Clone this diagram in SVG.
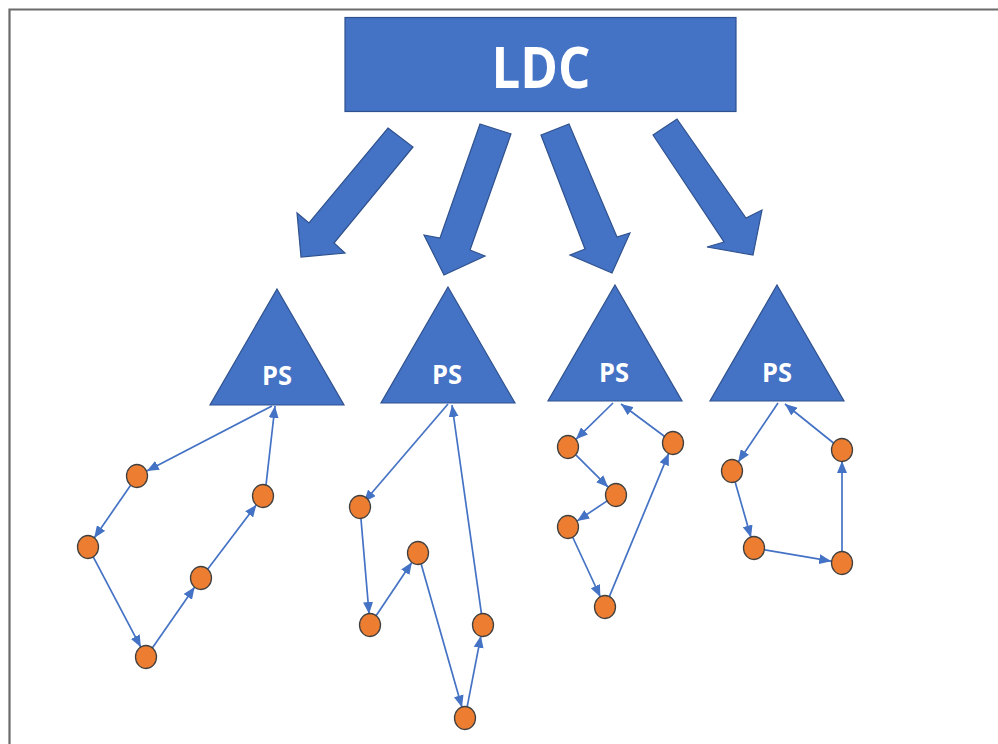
<svg xmlns="http://www.w3.org/2000/svg" width="998" height="744" viewBox="0 0 998 744">
<defs>
<style>
.blk{fill:#4472C4;stroke:#2F528F;stroke-width:1.2}
.lbl{fill:#FFFFFF;font-family:"Open Sans","Liberation Sans",sans-serif;font-weight:700;text-anchor:middle}
.node{fill:#ED7D31;stroke:#404040;stroke-width:1.3}
.edge{fill:none;stroke:#4472C4;stroke-width:1.7;marker-end:url(#ah)}
</style>
<marker id="ah" markerUnits="userSpaceOnUse" markerWidth="12" markerHeight="10" refX="12" refY="5" orient="auto">
<path d="M0,0 L12,5 L0,10 z" fill="#4472C4"/>
</marker>
</defs>
<rect width="998" height="744" fill="#FFFFFF"/>
<path d="M9.5,760 V9.5 H1010" fill="none" stroke="#6b6b6b" stroke-width="2.2"/>

<g id="ldc">
<rect class="blk" x="345" y="17.5" width="391" height="94"/>
<text class="lbl" x="541" y="88" font-size="58" textLength="99" lengthAdjust="spacingAndGlyphs">LDC</text>
</g>

<g id="big-arrows">
<polygon class="blk" points="388,128 413,147 334,243 345,253 301,257 297,213 309,223"/>
<polygon class="blk" points="480,124 511,134 470,250 485,256 444,275 424,235 440,238"/>
<polygon class="blk" points="541,135 569,124 617,237 630,233 612,273 570,255 585,249"/>
<polygon class="blk" points="653,135 677,119 746,218 762,210 753,255 707,247 724,242"/>
</g>

<g id="ps1">
<polygon class="blk" points="277,289 344,405 210,405"/>
<text class="lbl" x="277" y="385" font-size="26" textLength="30" lengthAdjust="spacingAndGlyphs">PS</text>
</g>
<g id="ps2">
<polygon class="blk" points="448,287 515,403 381,403"/>
<text class="lbl" x="447" y="383.5" font-size="26" textLength="30" lengthAdjust="spacingAndGlyphs">PS</text>
</g>
<g id="ps3">
<polygon class="blk" points="615,285 682,401 548,401"/>
<text class="lbl" x="614" y="382" font-size="26" textLength="30" lengthAdjust="spacingAndGlyphs">PS</text>
</g>
<g id="ps4">
<polygon class="blk" points="777,285 844,401 710,401"/>
<text class="lbl" x="777" y="382" font-size="26" textLength="30" lengthAdjust="spacingAndGlyphs">PS</text>
</g>

<g id="connectors">
<line class="edge" x1="272" y1="406" x2="146.8" y2="470.9"/>
<line class="edge" x1="130.8" y1="485.1" x2="94.2" y2="537.9"/>
<line class="edge" x1="93.1" y1="556.7" x2="140.9" y2="647.3"/>
<line class="edge" x1="152.3" y1="648" x2="194.7" y2="587"/>
<line class="edge" x1="207.6" y1="569.2" x2="256.4" y2="504.8"/>
<line class="edge" x1="266" y1="485" x2="275" y2="406"/>

<line class="edge" x1="448" y1="404" x2="364" y2="502"/>
<line class="edge" x1="360.9" y1="518" x2="369.1" y2="614"/>
<line class="edge" x1="376.1" y1="615.8" x2="411.9" y2="562.2"/>
<line class="edge" x1="421" y1="563.6" x2="462" y2="707.4"/>
<line class="edge" x1="467.1" y1="707.2" x2="480.9" y2="635.8"/>
<line class="edge" x1="481.5" y1="614.1" x2="452" y2="405"/>

<line class="edge" x1="613" y1="403" x2="575.9" y2="439.3"/>
<line class="edge" x1="575.8" y1="454.8" x2="608.2" y2="487.2"/>
<line class="edge" x1="606.8" y1="501.1" x2="577.2" y2="520.9"/>
<line class="edge" x1="572.6" y1="537" x2="600.4" y2="597"/>
<line class="edge" x1="609.2" y1="596.8" x2="668.8" y2="453.2"/>
<line class="edge" x1="664.3" y1="436.3" x2="621" y2="404"/>

<line class="edge" x1="778" y1="403" x2="738.2" y2="461.9"/>
<line class="edge" x1="735" y1="481.6" x2="751" y2="537.4"/>
<line class="edge" x1="764.8" y1="549.8" x2="831.2" y2="561.2"/>
<line class="edge" x1="842" y1="552" x2="842" y2="461"/>
<line class="edge" x1="833.5" y1="443" x2="785" y2="404"/>
</g>

<g id="n1a"><ellipse class="node" cx="137" cy="476" rx="10.5" ry="11.5"/></g>
<g id="n1b"><ellipse class="node" cx="88" cy="547" rx="10.5" ry="11.5"/></g>
<g id="n1c"><ellipse class="node" cx="146" cy="657" rx="10.5" ry="11.5"/></g>
<g id="n1d"><ellipse class="node" cx="201" cy="578" rx="10.5" ry="11.5"/></g>
<g id="n1e"><ellipse class="node" cx="263" cy="496" rx="10.5" ry="11.5"/></g>

<g id="n2a"><ellipse class="node" cx="360" cy="507" rx="10.5" ry="11.5"/></g>
<g id="n2b"><ellipse class="node" cx="418" cy="553" rx="10.5" ry="11.5"/></g>
<g id="n2c"><ellipse class="node" cx="370" cy="625" rx="10.5" ry="11.5"/></g>
<g id="n2d"><ellipse class="node" cx="483" cy="625" rx="10.5" ry="11.5"/></g>
<g id="n2e"><ellipse class="node" cx="465" cy="718" rx="10.5" ry="11.5"/></g>

<g id="n3a"><ellipse class="node" cx="568" cy="447" rx="10.5" ry="11.5"/></g>
<g id="n3b"><ellipse class="node" cx="616" cy="495" rx="10.5" ry="11.5"/></g>
<g id="n3c"><ellipse class="node" cx="568" cy="527" rx="10.5" ry="11.5"/></g>
<g id="n3d"><ellipse class="node" cx="605" cy="607" rx="10.5" ry="11.5"/></g>
<g id="n3e"><ellipse class="node" cx="673" cy="443" rx="10.5" ry="11.5"/></g>

<g id="n4a"><ellipse class="node" cx="732" cy="471" rx="10.5" ry="11.5"/></g>
<g id="n4b"><ellipse class="node" cx="754" cy="548" rx="10.5" ry="11.5"/></g>
<g id="n4c"><ellipse class="node" cx="842" cy="563" rx="10.5" ry="11.5"/></g>
<g id="n4d"><ellipse class="node" cx="842" cy="450" rx="10.5" ry="11.5"/></g>
</svg>
